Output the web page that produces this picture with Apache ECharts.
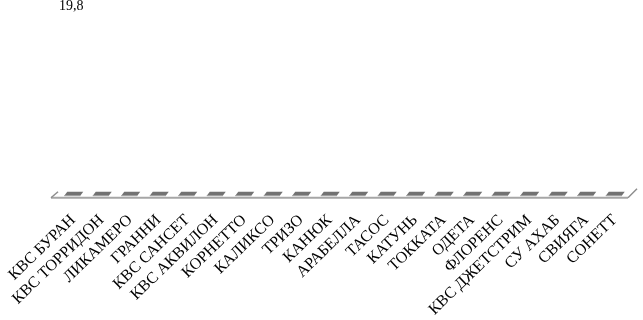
<!DOCTYPE html>
<html><head><meta charset="utf-8">
<script src="https://cdn.jsdelivr.net/npm/echarts@6/dist/echarts.min.js"></script>
<style>html,body{margin:0;padding:0;background:#fff}#c{width:643px;height:320px}</style>
</head><body><div id="c"></div>
<script>
var categories = ['КВС БУРАН','КВС ТОРРИДОН','ЛИКАМЕРО','ГРАННИ','КВС САНСЕТ','КВС АКВИЛОН','КОРНЕТТО','КАЛИКСО','ТРИЗО','КАНЮК','АРАБЕЛЛА','ТАСОС','КАТУНЬ','ТОККАТА','ОДЕТА','ФЛОРЕНС','КВС ДЖЕТСТРИМ','СУ АХАБ','СВИЯГА','СОНЕТТ'];
var values = [19.8,0,0,0,0,0,0,0,0,0,0,0,0,0,0,0,0,0,0,0];
var valueLabels = ['19,8','','','','','','','','','','','','','','','','','','',''];

var chart = echarts.init(document.getElementById('c'), null, {renderer:'canvas'});
var dataItems = values.map(function(v,i){return [i, v];});

chart.setOption({
  animation:false,
  backgroundColor:'#fff',
  grid:{left:59,right:14,top:12,bottom:119,containLabel:false},
  xAxis:{type:'category',data:categories,boundaryGap:true,
    axisLine:{show:false},axisTick:{show:false},splitLine:{show:false},
    axisLabel:{rotate:44,interval:0,margin:22,color:'#000',fontFamily:'Liberation Serif',fontSize:16}},
  yAxis:{type:'value',min:0,max:20,show:false},
  series:[
    {type:'custom',data:[[0,0]],silent:true,z:1,
     renderItem:function(params,api){
       var cs=params.coordSys;
       var y0=api.coord([0,0])[1];
       var l=cs.x, r=cs.x+cs.width;
       var fy=y0+2;
       return {type:'group',children:[
         {type:'line',shape:{x1:l-8,y1:fy,x2:r-1,y2:fy},style:{stroke:'#a6a6a6',lineWidth:2}},
         {type:'line',shape:{x1:r-1,y1:fy,x2:r+8,y2:fy-9},style:{stroke:'#8c8c8c',lineWidth:1.5}},
         {type:'line',shape:{x1:l-8,y1:fy,x2:l-1,y2:fy-6},style:{stroke:'#8c8c8c',lineWidth:1.5}}
       ]};
     }},
    {type:'custom',data:dataItems,z:2,
     renderItem:function(params,api){
       var i=api.value(0), v=api.value(1);
       var base=api.coord([i,0]);
       var top=api.coord([i,v]);
       var x=base[0], y=base[1];
       var children=[
         {type:'polygon',shape:{points:[[x-9,y],[x+7,y],[x+10,y-4],[x-6,y-4]]},style:{fill:'#727272'}},
         {type:'line',shape:{x1:x-9,y1:y,x2:x+7,y2:y},style:{stroke:'#a0a0a0',lineWidth:1}}
       ];
       var t=valueLabels[params.dataIndex];
       if(t){children.push({type:'text',x:top[0]-2,y:top[1]-1,style:{text:t,fill:'#000',font:'14px "Liberation Serif"',align:'center',verticalAlign:'bottom'}});}
       return {type:'group',children:children};
     }}
  ]
});
</script></body></html>
